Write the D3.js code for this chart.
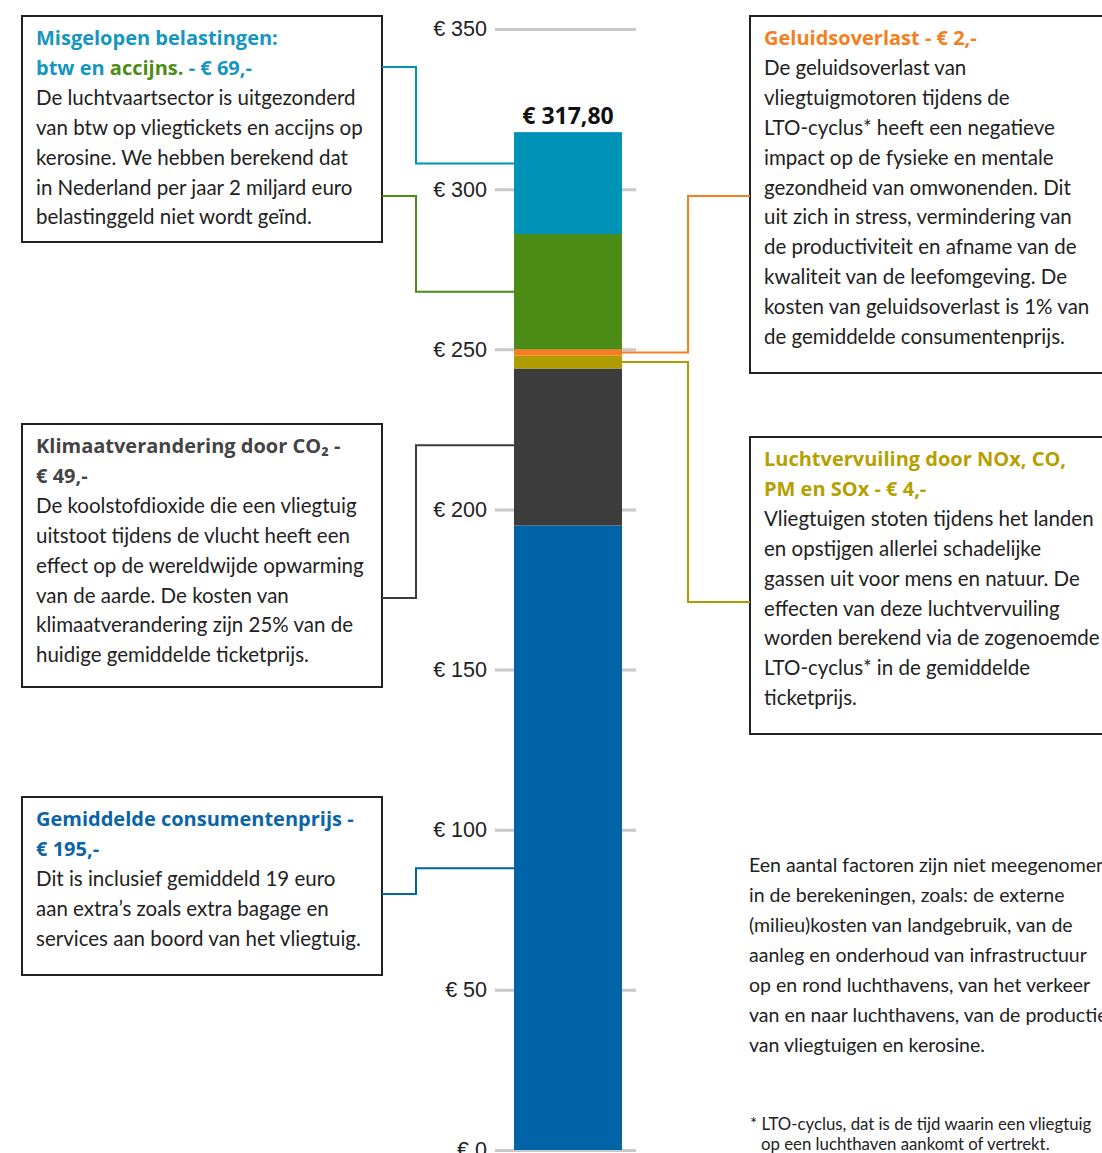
<!DOCTYPE html>
<html>
<head>
<meta charset="utf-8">
<script src="https://d3js.org/d3.v7.min.js"></script>
<style>
  body { margin: 0; background: #fff; }
  svg { display: block; font-family: Lato, 'Noto Sans', sans-serif; }
  .axis path { display: none; }
  .axis line { stroke: #c8c8c8; stroke-width: 3; }
  .axis text { font-size: 21.5px; fill: #222; }
  .box { fill: #fff; stroke: #222; stroke-width: 2; }
  .body { font-size: 20.5px; fill: #222; }
  .title { font-family: 'Open Sans', sans-serif; font-size: 20px; font-weight: 700; }
</style>
</head>
<body>
<div id="chart"></div>
<script>
// stacked segments, bottom to top
var keys = ["consument", "klimaat", "lucht", "geluid", "accijns", "btw"];
var values = [195, 49, 4, 2, 36, 31.8];
var colors = ["#0064a6", "#3c3c3c", "#b09b00", "#f57f20", "#4a8c15", "#0093b8"];
var total = "€ 317,80";
var tickValues = [0, 50, 100, 150, 200, 250, 300, 350];

// where each connector meets the bar (in euro)
var anchorValues = [88, 220, 246, 249, 268, 308];

var width = 1102, height = 1153;

var svg = d3.select("#chart").append("svg")
  .attr("width", width)
  .attr("height", height);

var y = d3.scaleLinear().domain([0, 350]).range([1150, 29]);
var x = d3.scaleBand().domain(["ticket"]).range([514, 622]).padding(0);

// gridline ticks
svg.append("g")
  .attr("class", "axis")
  .attr("transform", "translate(636,0)")
  .call(d3.axisLeft(y).tickValues(tickValues).tickSize(141).tickPadding(8)
    .tickFormat(function(d) { return "€ " + d; }));

var row = {};
keys.forEach(function(k, i) { row[k] = values[i]; });
var stacked = d3.stack().keys(keys)([row]);

svg.selectAll(".seg")
  .data(stacked)
  .enter().append("rect")
  .attr("class", "seg")
  .attr("x", x("ticket"))
  .attr("width", x.bandwidth())
  .attr("y", function(d) { return y(d[0][1]); })
  .attr("height", function(d) { return y(d[0][0]) - y(d[0][1]); })
  .attr("fill", function(d, i) { return colors[i]; });

svg.append("text")
  .attr("x", x("ticket") + x.bandwidth() / 2)
  .attr("y", y(d3.sum(values)) - 8)
  .attr("text-anchor", "middle")
  .style("font-family", "'Open Sans', sans-serif")
  .style("font-size", "23px")
  .style("font-weight", 700)
  .attr("fill", "#111")
  .text(total);

// annotation boxes
var boxes = [
  { x: 22, y: 16, w: 360, h: 226,
    title: [[["Misgelopen belastingen:", "#1596c0"]], [["btw en ", "#1596c0"], ["accijns.", "#4a8c15"], [" - € 69,-", "#1596c0"]]],
    body: ["De luchtvaartsector is uitgezonderd", "van btw op vliegtickets en accijns op", "kerosine. We hebben berekend dat", "in Nederland per jaar 2 miljard euro", "belastinggeld niet wordt geïnd."] },
  { x: 750, y: 16, w: 360, h: 357,
    title: [[["Geluidsoverlast - € 2,-", "#f57f20"]]],
    body: ["De geluidsoverlast van", "vliegtuigmotoren tijdens de", "LTO-cyclus* heeft een negatieve", "impact op de fysieke en mentale", "gezondheid van omwonenden. Dit", "uit zich in stress, vermindering van", "de productiviteit en afname van de", "kwaliteit van de leefomgeving. De", "kosten van geluidsoverlast is 1% van", "de gemiddelde consumentenprijs."] },
  { x: 22, y: 424, w: 360, h: 263,
    title: [[["Klimaatverandering door CO₂ -", "#444"]], [["€ 49,-", "#444"]]],
    body: ["De koolstofdioxide die een vliegtuig", "uitstoot tijdens de vlucht heeft een", "effect op de wereldwijde opwarming", "van de aarde. De kosten van", "klimaatverandering zijn 25% van de", "huidige gemiddelde ticketprijs."] },
  { x: 750, y: 437, w: 360, h: 297,
    title: [[["Luchtvervuiling door NOx, CO,", "#b5a000"]], [["PM en SOx - € 4,-", "#b5a000"]]],
    body: ["Vliegtuigen stoten tijdens het landen", "en opstijgen allerlei schadelijke", "gassen uit voor mens en natuur. De", "effecten van deze luchtvervuiling", "worden berekend via de zogenoemde", "LTO-cyclus* in de gemiddelde", "ticketprijs."] },
  { x: 22, y: 797, w: 360, h: 178,
    title: [[["Gemiddelde consumentenprijs -", "#0a64a8"]], [["€ 195,-", "#0a64a8"]]],
    body: ["Dit is inclusief gemiddeld 19 euro", "aan extra’s zoals extra bagage en", "services aan boord van het vliegtuig."] }
];

var lineH = 29.9;

boxes.forEach(function(b) {
  var g = svg.append("g");
  g.append("rect").attr("class", "box")
    .attr("x", b.x).attr("y", b.y).attr("width", b.w).attr("height", b.h);
  var tx = b.x + 14, ty = b.y + 29;
  b.title.forEach(function(parts, i) {
    var t = g.append("text").attr("class", "title")
      .attr("x", tx).attr("y", ty + i * lineH);
    parts.forEach(function(p) {
      t.append("tspan").attr("fill", p[1]).text(p[0]);
    });
  });
  b.body.forEach(function(line, i) {
    g.append("text").attr("class", "body")
      .attr("x", tx).attr("y", ty + (b.title.length + i) * lineH)
      .text(line);
  });
});

// connectors from the bar to the boxes
var left = x("ticket"), right = x("ticket") + x.bandwidth();
var connectors = [
  { i: 5, from: left, elbow: 416, to: 382, ty: 67 },
  { i: 4, from: left, elbow: 416, to: 382, ty: 196 },
  { i: 3, from: right, elbow: 688, to: 750, ty: 196 },
  { i: 2, from: right, elbow: 688, to: 750, ty: 602 },
  { i: 1, from: left, elbow: 416, to: 382, ty: 598 },
  { i: 0, from: left, elbow: 416, to: 382, ty: 894 }
];
connectors.forEach(function(c) {
  var yy = y(anchorValues[c.i]);
  svg.append("path")
    .attr("d", "M" + c.from + "," + yy + "H" + c.elbow + "V" + c.ty + "H" + c.to)
    .attr("fill", "none")
    .attr("stroke", colors[c.i])
    .attr("stroke-width", 2);
});

// note
var note = ["Een aantal factoren zijn niet meegenomen", "in de berekeningen, zoals: de externe", "(milieu)kosten van landgebruik, van de", "aanleg en onderhoud van infrastructuur", "op en rond luchthavens, van het verkeer", "van en naar luchthavens, van de productie", "van vliegtuigen en kerosine."];
note.forEach(function(line, i) {
  svg.append("text").attr("class", "body")
    .style("font-size", "19.5px")
    .attr("x", 749).attr("y", 872 + i * 30).text(line);
});

var foot = ["* LTO-cyclus, dat is de tijd waarin een vliegtuig", "op een luchthaven aankomt of vertrekt."];
foot.forEach(function(line, i) {
  svg.append("text").attr("class", "body")
    .style("font-size", "16.8px")
    .attr("x", i === 0 ? 750 : 761).attr("y", 1130 + i * 20).text(line);
});
</script>
</body>
</html>
